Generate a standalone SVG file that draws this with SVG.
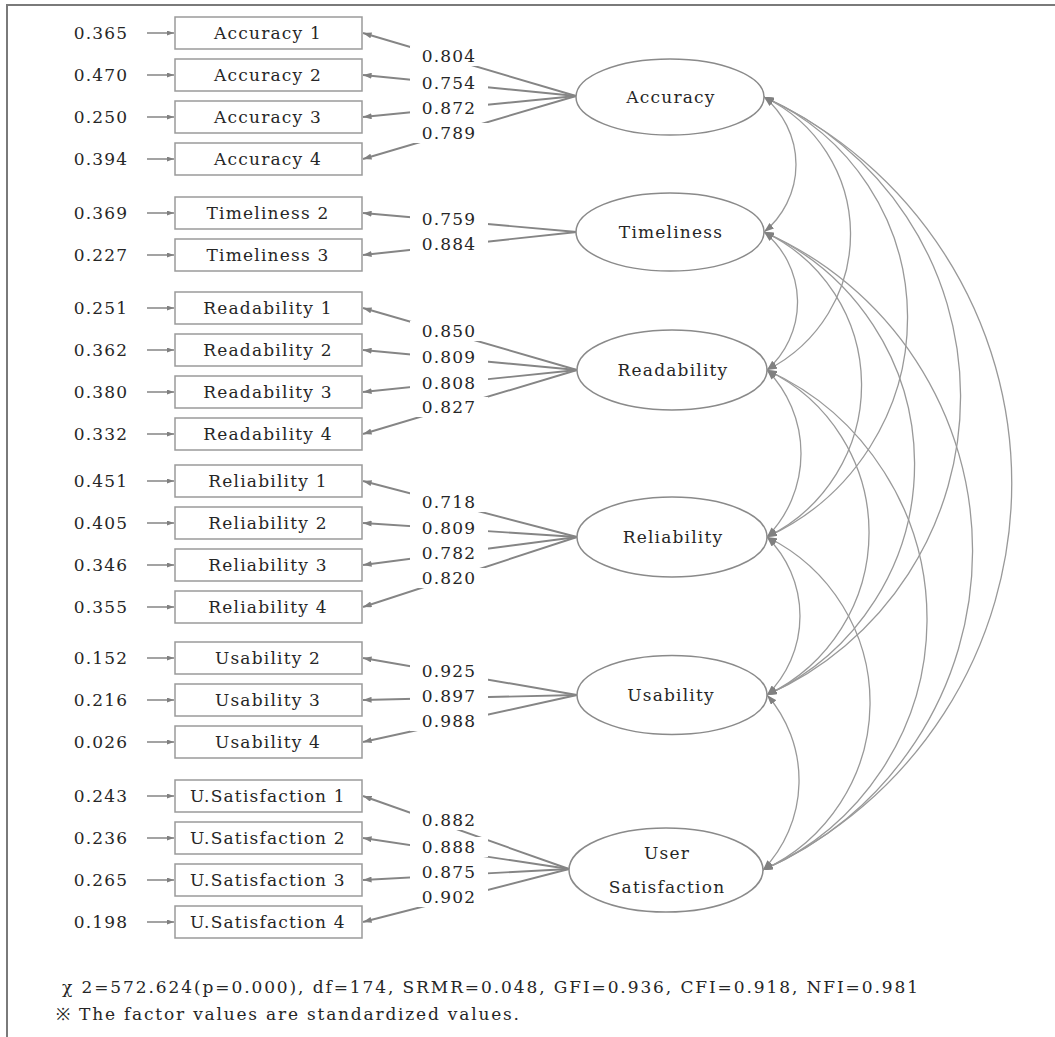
<svg xmlns="http://www.w3.org/2000/svg" width="1055" height="1037" viewBox="0 0 1055 1037">
<defs>
<marker id="ah" viewBox="0 0 10 7" refX="10" refY="3.5" markerWidth="10" markerHeight="7" orient="auto-start-reverse" markerUnits="userSpaceOnUse"><path d="M0,0 L10,3.5 L0,7 z" fill="#808080"/></marker>
<marker id="ahl" viewBox="0 0 10 7" refX="10" refY="3.5" markerWidth="9" markerHeight="6" orient="auto" markerUnits="userSpaceOnUse"><path d="M0,0 L10,3.5 L0,7 z" fill="#808080"/></marker>
<marker id="ahs" viewBox="0 0 10 7" refX="10" refY="3.5" markerWidth="7" markerHeight="5" orient="auto" markerUnits="userSpaceOnUse"><path d="M0,0 L10,3.5 L0,7 z" fill="#808080"/></marker>
</defs>
<style>
.t{font-family:"DejaVu Serif","Liberation Serif",serif;font-size:17px;fill:#262626;letter-spacing:1.2px;text-anchor:middle}
.f{font-family:"DejaVu Serif","Liberation Serif",serif;font-size:17px;fill:#262626}
.box{fill:#fff;stroke:#9a9a9a;stroke-width:1.5}
.ell{fill:#fff;stroke:#8a8a8a;stroke-width:1.5}
.ln{stroke:#858585;stroke-width:1.9;fill:none;marker-end:url(#ahl)}
.er{stroke:#858585;stroke-width:1.5;fill:none;marker-end:url(#ahs)}
.arc{stroke:#999;stroke-width:1.3;fill:none;marker-start:url(#ah);marker-end:url(#ah)}
.bg{fill:#fff}
.frame{stroke:#7a7a7a;stroke-width:2;fill:none}
</style>
<rect width="1055" height="1037" fill="#fff"/>
<path class="frame" d="M7,1037 L7,5 L1055,5"/>

<g id="connectors">
<line class="er" x1="147" y1="33" x2="174" y2="33"/>
<line class="er" x1="147" y1="75" x2="174" y2="75"/>
<line class="er" x1="147" y1="117" x2="174" y2="117"/>
<line class="er" x1="147" y1="159" x2="174" y2="159"/>
<line class="er" x1="147" y1="213" x2="174" y2="213"/>
<line class="er" x1="147" y1="255" x2="174" y2="255"/>
<line class="er" x1="147" y1="308" x2="174" y2="308"/>
<line class="er" x1="147" y1="350" x2="174" y2="350"/>
<line class="er" x1="147" y1="392" x2="174" y2="392"/>
<line class="er" x1="147" y1="434" x2="174" y2="434"/>
<line class="er" x1="147" y1="481" x2="174" y2="481"/>
<line class="er" x1="147" y1="523" x2="174" y2="523"/>
<line class="er" x1="147" y1="565" x2="174" y2="565"/>
<line class="er" x1="147" y1="607" x2="174" y2="607"/>
<line class="er" x1="147" y1="658" x2="174" y2="658"/>
<line class="er" x1="147" y1="700" x2="174" y2="700"/>
<line class="er" x1="147" y1="742" x2="174" y2="742"/>
<line class="er" x1="147" y1="796" x2="174" y2="796"/>
<line class="er" x1="147" y1="838" x2="174" y2="838"/>
<line class="er" x1="147" y1="880" x2="174" y2="880"/>
<line class="er" x1="147" y1="922" x2="174" y2="922"/>
<line class="ln" x1="576" y1="96" x2="363" y2="33"/>
<line class="ln" x1="576" y1="96" x2="363" y2="75"/>
<line class="ln" x1="576" y1="96" x2="363" y2="117"/>
<line class="ln" x1="576" y1="96" x2="363" y2="159"/>
<line class="ln" x1="577" y1="232" x2="363" y2="213"/>
<line class="ln" x1="577" y1="232" x2="363" y2="255"/>
<line class="ln" x1="577" y1="370" x2="363" y2="308"/>
<line class="ln" x1="577" y1="370" x2="363" y2="350"/>
<line class="ln" x1="577" y1="370" x2="363" y2="392"/>
<line class="ln" x1="577" y1="370" x2="363" y2="434"/>
<line class="ln" x1="577" y1="537" x2="363" y2="481"/>
<line class="ln" x1="577" y1="537" x2="363" y2="523"/>
<line class="ln" x1="577" y1="537" x2="363" y2="565"/>
<line class="ln" x1="577" y1="537" x2="363" y2="607"/>
<line class="ln" x1="577" y1="695" x2="363" y2="658"/>
<line class="ln" x1="577" y1="695" x2="363" y2="700"/>
<line class="ln" x1="577" y1="695" x2="363" y2="742"/>
<line class="ln" x1="569" y1="869" x2="363" y2="796"/>
<line class="ln" x1="569" y1="869" x2="363" y2="838"/>
<line class="ln" x1="569" y1="869" x2="363" y2="880"/>
<line class="ln" x1="569" y1="869" x2="363" y2="922"/>
<path class="arc" d="M764,97 A87.2,87.2 0 0 1 764,232"/>
<path class="arc" d="M764,97 A152.1,152.1 0 0 1 767,370"/>
<path class="arc" d="M764,97 A241.4,241.4 0 0 1 767,537"/>
<path class="arc" d="M764,97 A326.7,326.7 0 0 1 767,695"/>
<path class="arc" d="M764,97 A425,425 0 0 1 763,870"/>
<path class="arc" d="M764,232 A90.4,90.4 0 0 1 767,370"/>
<path class="arc" d="M764,232 A169.1,169.1 0 0 1 767,537"/>
<path class="arc" d="M764,232 A254.3,254.3 0 0 1 767,695"/>
<path class="arc" d="M764,232 A347.9,347.9 0 0 1 763,870"/>
<path class="arc" d="M767,370 A119.5,119.5 0 0 1 767,537"/>
<path class="arc" d="M767,370 A180.4,180.4 0 0 1 767,695"/>
<path class="arc" d="M767,370 A273.9,273.9 0 0 1 763,870"/>
<path class="arc" d="M767,537 A111.1,111.1 0 0 1 767,695"/>
<path class="arc" d="M767,537 A184.5,184.5 0 0 1 763,870"/>
<path class="arc" d="M767,695 A129.6,129.6 0 0 1 763,870"/>
</g>

<g id="loading-labels">
<rect class="bg" x="410" y="46" width="78" height="20"/><text class="t" x="449" y="62">0.804</text>
<rect class="bg" x="410" y="73" width="78" height="20"/><text class="t" x="449" y="89">0.754</text>
<rect class="bg" x="410" y="98" width="78" height="20"/><text class="t" x="449" y="114">0.872</text>
<rect class="bg" x="410" y="123" width="78" height="20"/><text class="t" x="449" y="139">0.789</text>
<rect class="bg" x="410" y="209" width="78" height="20"/><text class="t" x="449" y="225">0.759</text>
<rect class="bg" x="410" y="234" width="78" height="20"/><text class="t" x="449" y="250">0.884</text>
<rect class="bg" x="410" y="321" width="78" height="20"/><text class="t" x="449" y="337">0.850</text>
<rect class="bg" x="410" y="347" width="78" height="20"/><text class="t" x="449" y="363">0.809</text>
<rect class="bg" x="410" y="373" width="78" height="20"/><text class="t" x="449" y="389">0.808</text>
<rect class="bg" x="410" y="397" width="78" height="20"/><text class="t" x="449" y="413">0.827</text>
<rect class="bg" x="410" y="492" width="78" height="20"/><text class="t" x="449" y="508">0.718</text>
<rect class="bg" x="410" y="518" width="78" height="20"/><text class="t" x="449" y="534">0.809</text>
<rect class="bg" x="410" y="543" width="78" height="20"/><text class="t" x="449" y="559">0.782</text>
<rect class="bg" x="410" y="568" width="78" height="20"/><text class="t" x="449" y="584">0.820</text>
<rect class="bg" x="410" y="661" width="78" height="20"/><text class="t" x="449" y="677">0.925</text>
<rect class="bg" x="410" y="686" width="78" height="20"/><text class="t" x="449" y="702">0.897</text>
<rect class="bg" x="410" y="711" width="78" height="20"/><text class="t" x="449" y="727">0.988</text>
<rect class="bg" x="410" y="810" width="78" height="20"/><text class="t" x="449" y="826">0.882</text>
<rect class="bg" x="410" y="837" width="78" height="20"/><text class="t" x="449" y="853">0.888</text>
<rect class="bg" x="410" y="862" width="78" height="20"/><text class="t" x="449" y="878">0.875</text>
<rect class="bg" x="410" y="887" width="78" height="20"/><text class="t" x="449" y="903">0.902</text>
</g>

<g id="error-values">
<text class="t" x="101" y="39">0.365</text>
<text class="t" x="101" y="81">0.470</text>
<text class="t" x="101" y="123">0.250</text>
<text class="t" x="101" y="165">0.394</text>
<text class="t" x="101" y="219">0.369</text>
<text class="t" x="101" y="261">0.227</text>
<text class="t" x="101" y="314">0.251</text>
<text class="t" x="101" y="356">0.362</text>
<text class="t" x="101" y="398">0.380</text>
<text class="t" x="101" y="440">0.332</text>
<text class="t" x="101" y="487">0.451</text>
<text class="t" x="101" y="529">0.405</text>
<text class="t" x="101" y="571">0.346</text>
<text class="t" x="101" y="613">0.355</text>
<text class="t" x="101" y="664">0.152</text>
<text class="t" x="101" y="706">0.216</text>
<text class="t" x="101" y="748">0.026</text>
<text class="t" x="101" y="802">0.243</text>
<text class="t" x="101" y="844">0.236</text>
<text class="t" x="101" y="886">0.265</text>
<text class="t" x="101" y="928">0.198</text>
</g>

<g id="acc1"><rect class="box" x="175" y="17" width="187" height="32"/><text class="t" x="268" y="39">Accuracy 1</text></g>
<g id="acc2"><rect class="box" x="175" y="59" width="187" height="32"/><text class="t" x="268" y="81">Accuracy 2</text></g>
<g id="acc3"><rect class="box" x="175" y="101" width="187" height="32"/><text class="t" x="268" y="123">Accuracy 3</text></g>
<g id="acc4"><rect class="box" x="175" y="143" width="187" height="32"/><text class="t" x="268" y="165">Accuracy 4</text></g>
<g id="tim2"><rect class="box" x="175" y="197" width="187" height="32"/><text class="t" x="268" y="219">Timeliness 2</text></g>
<g id="tim3"><rect class="box" x="175" y="239" width="187" height="32"/><text class="t" x="268" y="261">Timeliness 3</text></g>
<g id="read1"><rect class="box" x="175" y="292" width="187" height="32"/><text class="t" x="268" y="314">Readability 1</text></g>
<g id="read2"><rect class="box" x="175" y="334" width="187" height="32"/><text class="t" x="268" y="356">Readability 2</text></g>
<g id="read3"><rect class="box" x="175" y="376" width="187" height="32"/><text class="t" x="268" y="398">Readability 3</text></g>
<g id="read4"><rect class="box" x="175" y="418" width="187" height="32"/><text class="t" x="268" y="440">Readability 4</text></g>
<g id="rel1"><rect class="box" x="175" y="465" width="187" height="32"/><text class="t" x="268" y="487">Reliability 1</text></g>
<g id="rel2"><rect class="box" x="175" y="507" width="187" height="32"/><text class="t" x="268" y="529">Reliability 2</text></g>
<g id="rel3"><rect class="box" x="175" y="549" width="187" height="32"/><text class="t" x="268" y="571">Reliability 3</text></g>
<g id="rel4"><rect class="box" x="175" y="591" width="187" height="32"/><text class="t" x="268" y="613">Reliability 4</text></g>
<g id="usa2"><rect class="box" x="175" y="642" width="187" height="32"/><text class="t" x="268" y="664">Usability 2</text></g>
<g id="usa3"><rect class="box" x="175" y="684" width="187" height="32"/><text class="t" x="268" y="706">Usability 3</text></g>
<g id="usa4"><rect class="box" x="175" y="726" width="187" height="32"/><text class="t" x="268" y="748">Usability 4</text></g>
<g id="us1"><rect class="box" x="175" y="780" width="187" height="32"/><text class="t" x="268" y="802">U.Satisfaction 1</text></g>
<g id="us2"><rect class="box" x="175" y="822" width="187" height="32"/><text class="t" x="268" y="844">U.Satisfaction 2</text></g>
<g id="us3"><rect class="box" x="175" y="864" width="187" height="32"/><text class="t" x="268" y="886">U.Satisfaction 3</text></g>
<g id="us4"><rect class="box" x="175" y="906" width="187" height="32"/><text class="t" x="268" y="928">U.Satisfaction 4</text></g>

<g id="accuracy"><ellipse class="ell" cx="670" cy="97" rx="94" ry="38"/><text class="t" x="671" y="103">Accuracy</text></g>
<g id="timeliness"><ellipse class="ell" cx="670" cy="232" rx="94" ry="39"/><text class="t" x="671" y="238">Timeliness</text></g>
<g id="readability"><ellipse class="ell" cx="672" cy="370" rx="95" ry="40"/><text class="t" x="673" y="376">Readability</text></g>
<g id="reliability"><ellipse class="ell" cx="672" cy="537" rx="95" ry="40"/><text class="t" x="673" y="543">Reliability</text></g>
<g id="usability"><ellipse class="ell" cx="672" cy="695" rx="95" ry="39.5"/><text class="t" x="671" y="701">Usability</text></g>
<g id="user-satisfaction"><ellipse class="ell" cx="666" cy="870" rx="97" ry="42"/><text class="t" x="667" y="859">User</text><text class="t" x="667" y="893">Satisfaction</text></g>

<g id="footer">
<text class="f" x="62" y="993" textLength="856" lengthAdjust="spacing">χ 2=572.624(p=0.000), df=174, SRMR=0.048, GFI=0.936, CFI=0.918, NFI=0.981</text>
<text class="f" x="56" y="1020" textLength="463" lengthAdjust="spacing">※ The factor values are standardized values.</text>
</g>
</svg>
